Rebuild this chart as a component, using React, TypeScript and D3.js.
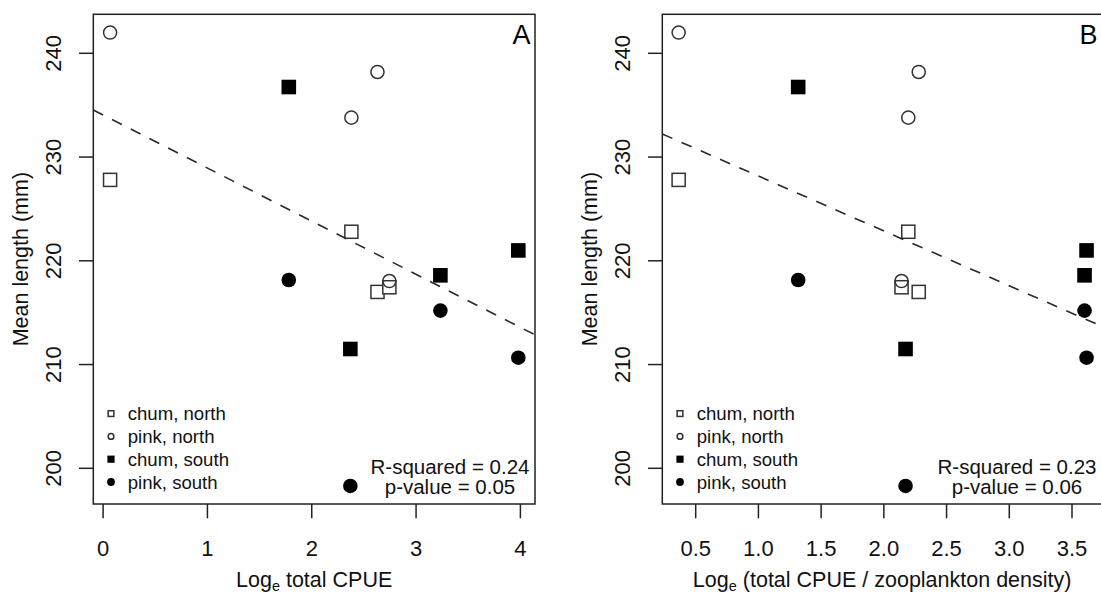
import React from "react";
import * as d3 from "d3";

// ---------- data ----------
const groups = ["chum, north", "pink, north", "chum, south", "pink, south"];
const symbols = ["squareOpen", "circleOpen", "squareFilled", "circleFilled"];

// Mean length (mm)
const lengthChumNorth = [227.8, 222.8, 217.0, 217.45];
const lengthPinkNorth = [242.0, 233.8, 238.2, 218.05];
const lengthChumSouth = [236.75, 211.5, 218.6, 221.0];
const lengthPinkSouth = [218.15, 198.3, 215.2, 210.66];

// Panel A: Log_e total CPUE
const cpueNorthA = [0.067, 2.38, 2.63, 2.744];
const cpueSouthA = [1.78, 2.37, 3.233, 3.98];
// Panel B: Log_e (total CPUE / zooplankton density)
const cpueNorthB = [0.364, 2.195, 2.278, 2.141];
const cpueSouthB = [1.317, 2.173, 3.6, 3.616];

const yTicks = [200, 210, 220, 230, 240];
const xTicksA = [0, 1, 2, 3, 4];
const xTicksB = [0.5, 1.0, 1.5, 2.0, 2.5, 3.0, 3.5];

const fitA = { intercept: 234.06, slope: -5.12, r2: "0.24", p: "0.05" };
const fitB = { intercept: 233.46, slope: -5.29, r2: "0.23", p: "0.06" };

// ---------- layout ----------
const W = 1101;
const H = 594;
const FONT = "'Liberation Sans', Arial, Helvetica, sans-serif";
const TOP = 14.3;
const BOTTOM = 504;
const INK = "#222";

const yScale = d3.scaleLinear().domain([200, 240]).range([468.3, 53.3]);

type PanelDef = {
  letter: string;
  left: number;
  right: number;
  x: d3.ScaleLinear<number, number>;
  ticks: number[];
  fmt: (v: number) => string;
  north: number[];
  south: number[];
  fit: { intercept: number; slope: number; r2: string; p: string };
  xLabelRest: string;
};

const panels: PanelDef[] = [
  {
    letter: "A",
    left: 93.3,
    right: 535,
    x: d3.scaleLinear().domain([0, 4]).range([103.1, 520.4]),
    ticks: xTicksA,
    fmt: d3.format("d"),
    north: cpueNorthA,
    south: cpueSouthA,
    fit: fitA,
    xLabelRest: " total CPUE",
  },
  {
    letter: "B",
    left: 662.3,
    right: 1102,
    x: d3.scaleLinear().domain([0.5, 3.5]).range([695.7, 1072]),
    ticks: xTicksB,
    fmt: d3.format(".1f"),
    north: cpueNorthB,
    south: cpueSouthB,
    fit: fitB,
    xLabelRest: " (total CPUE / zooplankton density)",
  },
];

function Symbol({ kind, cx, cy, size }: { kind: string; cx: number; cy: number; size: number }) {
  const h = size / 2;
  if (kind === "squareOpen")
    return <rect x={cx - h + 0.75} y={cy - h + 0.75} width={size - 1.5} height={size - 1.5} fill="white" stroke="#333" strokeWidth={1.5} />;
  if (kind === "circleOpen")
    return <circle cx={cx} cy={cy} r={h - 0.75} fill="none" stroke="#333" strokeWidth={1.5} />;
  if (kind === "squareFilled")
    return <rect x={cx - h} y={cy - h} width={size} height={size} fill="#000" />;
  return <circle cx={cx} cy={cy} r={h} fill="#000" />;
}

function Panel({ p }: { p: PanelDef }) {
  const series = [
    { kind: symbols[0], xs: p.north, ys: lengthChumNorth },
    { kind: symbols[1], xs: p.north, ys: lengthPinkNorth },
    { kind: symbols[2], xs: p.south, ys: lengthChumSouth },
    { kind: symbols[3], xs: p.south, ys: lengthPinkSouth },
  ];
  const x0 = p.x.invert(p.left);
  const x1 = p.x.invert(p.right);
  const line = d3
    .line<number>()
    .x((v) => p.x(v))
    .y((v) => yScale(p.fit.intercept + p.fit.slope * v));
  const midX = (p.left + p.right) / 2;
  const midY = (TOP + BOTTOM) / 2;
  const annX = p.right - 85;
  return (
    <g>
      {/* points */}
      {series.map((s, si) =>
        s.xs.map((xv, i) => (
          <Symbol key={`${si}-${i}`} kind={s.kind} cx={p.x(xv)} cy={yScale(s.ys[i])} size={14.6} />
        ))
      )}
      {/* regression line */}
      <path d={line([x0, x1]) || ""} fill="none" stroke="#2a2a2a" strokeWidth={1.6} strokeDasharray="11,10" />
      {/* box */}
      <rect x={p.left} y={TOP} width={p.right - p.left} height={BOTTOM - TOP} fill="none" stroke={INK} strokeWidth={1.5} />
      {/* panel letter */}
      <text x={p.right - 4.5} y={44.3} textAnchor="end" fontSize={27} fontFamily={FONT} fill="#000">
        {p.letter}
      </text>
      {/* x axis */}
      {p.ticks.map((t) => (
        <g key={t}>
          <line x1={p.x(t)} x2={p.x(t)} y1={BOTTOM} y2={518.3} stroke={INK} strokeWidth={1.5} />
          <text x={p.x(t)} y={556} textAnchor="middle" fontSize={22} fontFamily={FONT} fill="#111">
            {p.fmt(t)}
          </text>
        </g>
      ))}
      {/* y axis */}
      {yTicks.map((t) => (
        <g key={t}>
          <line x1={p.left - 14.3} x2={p.left} y1={yScale(t)} y2={yScale(t)} stroke={INK} strokeWidth={1.5} />
          <text
            transform={`translate(${p.left - 32.3},${yScale(t)}) rotate(-90)`}
            textAnchor="middle"
            fontSize={22}
            fontFamily={FONT}
            fill="#111"
          >
            {t}
          </text>
        </g>
      ))}
      {/* axis titles */}
      <text x={midX} y={587} textAnchor="middle" fontSize={21.5} fontFamily={FONT} fill="#111">
        Log
        <tspan fontSize={14.5} dy={4}>e</tspan>
        <tspan dy={-4}>{p.xLabelRest}</tspan>
      </text>
      <text
        transform={`translate(${p.left - 64.9},${midY}) rotate(-90)`}
        textAnchor="middle"
        fontSize={21.5}
        fontFamily={FONT}
        fill="#111"
      >
        Mean length (mm)
      </text>
      {/* legend */}
      {groups.map((g, i) => {
        const cy = 413.6 + i * 22.8;
        return (
          <g key={g}>
            <Symbol kind={symbols[i]} cx={p.left + 17.7} cy={cy} size={i === 3 ? 7.8 : 7.2} />
            <text x={p.left + 34.4} y={cy + 6.6} fontSize={18.6} fontFamily={FONT} fill="#111">
              {g}
            </text>
          </g>
        );
      })}
      {/* fit annotation */}
      <text x={annX} y={474} textAnchor="middle" fontSize={20.5} fontFamily={FONT} fill="#111">
        R-squared = {p.fit.r2}
      </text>
      <text x={annX} y={494.3} textAnchor="middle" fontSize={20.5} fontFamily={FONT} fill="#111">
        p-value = {p.fit.p}
      </text>
    </g>
  );
}

export default function App() {
  return (
    <svg
      width={W}
      height={H}
      viewBox={`0 0 ${W} ${H}`}
      style={{ position: "absolute", left: 0, top: 0, background: "#fff", display: "block" }}
    >
      <rect width={W} height={H} fill="#fff" />
      {panels.map((p) => (
        <Panel key={p.letter} p={p} />
      ))}
    </svg>
  );
}
